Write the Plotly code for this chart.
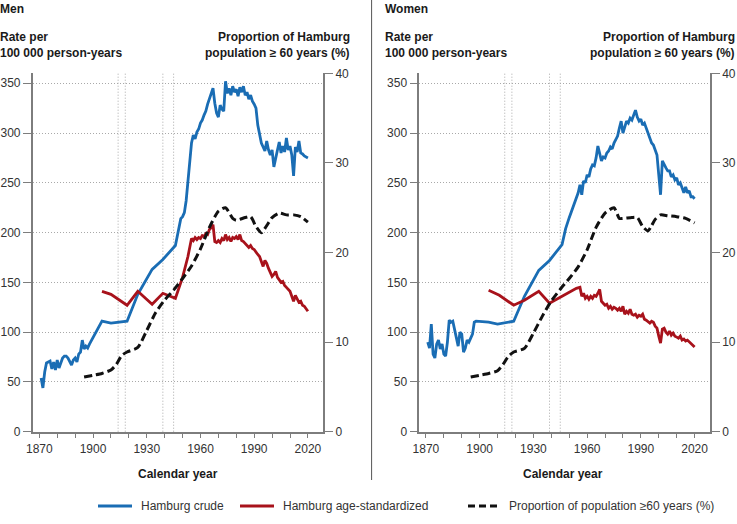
import plotly.graph_objects as go

FONT = "Liberation Sans, Arial, sans-serif"
BLUE = "#1a6db4"
RED = "#a8121b"
BLACK = "#111111"
AXC = "#7d7d7d"
GRIDC = "#a9a9a9"

# ---------------- data ----------------
men_crude_years = list(range(1871, 1899)) + [1905, 1910, 1919, 1925, 1933, 1939, 1946, 1947, 1948,
                                              1949, 1950, 1951, 1952, 1953, 1954, 1955] + list(range(1956, 2021))
men_crude_vals = [54, 44, 60, 69, 70, 71, 63, 70, 62, 72, 64, 70, 74, 76, 76, 74, 70, 67, 72, 74, 70, 78, 80, 92,
                  83, 86, 84, 88,
                  111, 109, 111, 138, 163, 173, 187, 196, 206, 214, 216, 220, 232, 250, 270, 290,
                  298, 294, 301, 304, 310, 313, 318, 322, 329, 335,
                  341, 345, 330, 320, 316, 328, 324, 322, 352, 340,
                  345, 338, 347, 341, 344, 337, 346, 341, 347, 338,
                  341, 334, 338, 332, 329, 325, 308, 297, 290, 286,
                  282, 292, 283, 278, 283, 266, 276, 283, 291, 280,
                  287, 281, 295, 283, 287, 278, 257, 286, 281, 292,
                  280, 279, 277, 276, 275]

men_std_years = [1905, 1910, 1919, 1925, 1933, 1939, 1946, 1950, 1953, 1955] + list(range(1956, 2021))
men_std_vals = [141, 138, 127, 141, 128, 139, 134, 155, 176, 194,
                192, 195, 193, 195, 194, 197, 196, 199, 198, 203,
                205, 208, 191, 190, 192, 190, 194, 192, 198, 193,
                195, 191, 195, 194, 196, 193, 198, 192, 191, 189,
                188, 185, 187, 184, 183, 180, 178, 176, 170, 166,
                172, 169, 164, 160, 156, 158, 161, 155, 152, 150,
                151, 147, 145, 143, 141, 136, 131, 137, 133, 130,
                131, 127, 126, 124, 121]

men_prop_years = [1895, 1900, 1905, 1910, 1913, 1916, 1919, 1925, 1930, 1935, 1940, 1945, 1950, 1955, 1960,
                  1965, 1970, 1974, 1978, 1980, 1985, 1988, 1991, 1994, 1997, 2000, 2004, 2008, 2012, 2016, 2020]
men_prop_vals = [6.1, 6.3, 6.5, 6.9, 7.5, 8.5, 8.9, 9.4, 11.3, 13.3, 14.7, 15.8, 17.1, 18.5, 20.4,
                 22.8, 24.6, 25.0, 23.8, 23.6, 23.9, 24.0, 22.9, 22.2, 23.0, 23.9, 24.4, 24.2, 24.2, 24.0, 23.4]

women_crude_years = list(range(1871, 1899)) + [1905, 1910, 1919, 1925, 1933, 1939, 1946, 1948, 1950, 1952,
                                                1954, 1955] + list(range(1956, 2021))
women_crude_vals = [90, 84, 108, 78, 74, 88, 92, 83, 88, 78, 76, 90, 112, 110, 111, 102, 96, 86, 100, 98, 80, 84,
                    92, 90, 94, 98, 110, 111,
                    110, 108, 111, 136, 162, 172, 188, 204, 215, 225, 233, 240,
                    248, 238, 252, 250, 258, 256, 264, 268, 267, 275,
                    287, 280, 272, 276, 275, 280, 282, 286, 284, 290,
                    293, 297, 305, 312, 300, 306, 312, 310, 315, 313,
                    318, 323, 316, 312, 314, 308, 310, 305, 298, 293,
                    290, 288, 282, 278, 258, 238, 272, 268, 265, 262,
                    262, 256, 258, 253, 255, 248, 250, 245, 240, 246,
                    240, 242, 236, 236, 234]

women_std_years = [1905, 1911, 1919, 1925, 1933, 1939, 1945, 1950, 1954] + list(range(1956, 2021))
women_std_vals = [142, 137, 127, 132, 141, 129, 135, 140, 144,
                  145, 136, 139, 134, 136, 133, 136, 134, 137, 136,
                  139, 143, 131, 129, 127, 128, 124, 126, 123, 125,
                  124, 122, 124, 121, 126, 118, 121, 119, 123, 118,
                  117, 118, 115, 117, 116, 118, 113, 112, 110, 109,
                  111, 110, 106, 104, 96, 89, 103, 104, 100, 98,
                  101, 97, 99, 96, 95, 94, 96, 92, 93, 91,
                  92, 90, 89, 87, 85]

women_prop_years = [1895, 1900, 1905, 1910, 1913, 1916, 1919, 1925, 1930, 1935, 1940, 1945, 1950, 1955, 1960,
                    1965, 1970, 1975, 1978, 1980, 1985, 1988, 1991, 1994, 1996, 1998, 2001, 2005, 2010, 2015, 2020]
women_prop_vals = [6.1, 6.3, 6.5, 6.8, 7.5, 8.4, 8.9, 9.3, 11.0, 12.9, 14.6, 15.9, 17.1, 18.4, 20.3,
                   22.8, 24.4, 25.0, 23.8, 23.8, 23.9, 23.9, 22.9, 22.4, 23.0, 23.7, 24.2, 24.1, 24.0, 23.8, 23.3]

war_years = [1914, 1918, 1939, 1945]
x_range = [1866.3, 2028.6]
left_ticks = [0, 50, 100, 150, 200, 250, 300, 350]
right_ticks = [0, 10, 20, 30, 40]
series_names = ["Hamburg crude", "Hamburg age-standardized", "Proportion of population \u226560 years (%)"]

# ---------------- figure ----------------
W, H = 737, 524
fig = go.Figure()

panels = [
    ("x", "y", "y2", men_crude_years, men_crude_vals, men_std_years, men_std_vals, men_prop_years, men_prop_vals),
    ("x2", "y3", "y4", women_crude_years, women_crude_vals, women_std_years, women_std_vals, women_prop_years,
     women_prop_vals),
]
for xa, ya, yb, cy, cv, sy, sv, py, pv in panels:
    fig.add_trace(go.Scatter(x=cy, y=cv, mode="lines", xaxis=xa, yaxis=ya, showlegend=False,
                             line=dict(color=BLUE, width=2.8), name=series_names[0]))
    fig.add_trace(go.Scatter(x=sy, y=sv, mode="lines", xaxis=xa, yaxis=ya, showlegend=False,
                             line=dict(color=RED, width=2.8), name=series_names[1]))
    fig.add_trace(go.Scatter(x=py, y=pv, mode="lines", xaxis=xa, yaxis=yb, showlegend=False,
                             line=dict(color=BLACK, width=3, dash="8px,4px", shape="spline", smoothing=0.6),
                             name=series_names[2]))

px_ = lambda v: v / W
py_ = lambda v: 1 - v / H
xdom1 = [px_(32.7), px_(323.3)]
xdom2 = [px_(419.3), px_(710.0)]
ydom = [py_(431.7), py_(73.3)]

tickfont = dict(family=FONT, size=12, color="#333333")
xcommon = dict(range=x_range, tickmode="linear", tick0=1870, dtick=30, ticks="outside", ticklen=5,
               tickcolor=AXC, showline=True, linecolor=AXC, linewidth=1.5, showgrid=False, zeroline=False,
               tickfont=tickfont, minor=dict(dtick=10, tick0=1870, ticks="outside", ticklen=5, tickcolor=AXC),
               fixedrange=True, automargin=False)
ylcommon = dict(range=[0, 360], tickmode="array", tickvals=left_ticks, ticks="outside", ticklen=8,
                tickcolor=AXC, showline=True, linecolor=AXC, linewidth=1.5, showgrid=True, gridcolor=GRIDC,
                griddash="1px,2px", gridwidth=1, zeroline=False, tickfont=tickfont, domain=ydom,
                automargin=False, ticklabeloverflow="allow", fixedrange=True)
yrcommon = dict(range=[0, 40], tickmode="array", tickvals=right_ticks, ticks="outside", ticklen=8,
                tickcolor=AXC, showline=True, linecolor=AXC, linewidth=1.5, showgrid=False, zeroline=False,
                tickfont=tickfont, side="right", automargin=False, ticklabeloverflow="allow", fixedrange=True)

fig.update_layout(
    width=W, height=H, margin=dict(l=0, r=0, t=0, b=0, pad=0, autoexpand=False),
    paper_bgcolor="white", plot_bgcolor="white",
    xaxis=dict(domain=xdom1, anchor="y", **xcommon),
    xaxis2=dict(domain=xdom2, anchor="y3", **xcommon),
    yaxis=dict(anchor="x", **ylcommon),
    yaxis2=dict(anchor="x", overlaying="y", **yrcommon),
    yaxis3=dict(anchor="x2", **ylcommon),
    yaxis4=dict(anchor="x2", overlaying="y3", **yrcommon),
    showlegend=False,
)

shapes = []
for xr in ["x", "x2"]:
    for wy in war_years:
        shapes.append(dict(type="line", xref=xr, yref="y domain" if xr == "x" else "y3 domain",
                           x0=wy, x1=wy, y0=0, y1=1, line=dict(color="#a9a9a9", width=1, dash="1px,2px"),
                           layer="below"))
# panel separator
shapes.append(dict(type="line", xref="paper", yref="paper", x0=px_(371.6), x1=px_(371.6), y0=py_(0),
                   y1=py_(480), line=dict(color="#555555", width=1)))
# legend samples
LY = 506
shapes.append(dict(type="line", xref="paper", yref="paper", x0=px_(98), x1=px_(132), y0=py_(LY), y1=py_(LY),
                   line=dict(color=BLUE, width=2.8)))
shapes.append(dict(type="line", xref="paper", yref="paper", x0=px_(240), x1=px_(274), y0=py_(LY), y1=py_(LY),
                   line=dict(color=RED, width=2.8)))
shapes.append(dict(type="line", xref="paper", yref="paper", x0=px_(468), x1=px_(501), y0=py_(LY), y1=py_(LY),
                   line=dict(color=BLACK, width=2.8, dash="7px,4px")))
fig.update_layout(shapes=shapes)

bold = dict(family=FONT, size=12, color="#1a1a1a")
ann = []
def txt(x, y, s, xanchor="left", font=bold):
    ann.append(dict(xref="paper", yref="paper", x=px_(x), y=py_(y), text=s, showarrow=False,
                    xanchor=xanchor, yanchor="middle", font=font, borderpad=0))

for off, title in [(0.0, "Men"), (385.0, "Women")]:
    txt(off - 1, 9, "<b>%s</b>" % title)
    txt(off - 1, 37, "<b>Rate per</b>")
    txt(off - 1, 53, "<b>100 000 person-years</b>")
    txt(off + 351, 37, "<b>Proportion of Hamburg</b>", xanchor="right")
    txt(off + 351, 53, "<b>population \u2265 60 years (%)</b>", xanchor="right")
    txt(off + 178.2, 474, "<b>Calendar year</b>", xanchor="center")

legfont = dict(family=FONT, size=12, color="#333333")
txt(140, LY, series_names[0], font=legfont)
txt(281.5, LY, series_names[1], font=legfont)
txt(508, LY, series_names[2], font=legfont)
fig.update_layout(annotations=ann)

fig.write_html("out.html", config={"displayModeBar": False},
               post_script="document.body.style.margin='0';document.body.style.padding='0';")
